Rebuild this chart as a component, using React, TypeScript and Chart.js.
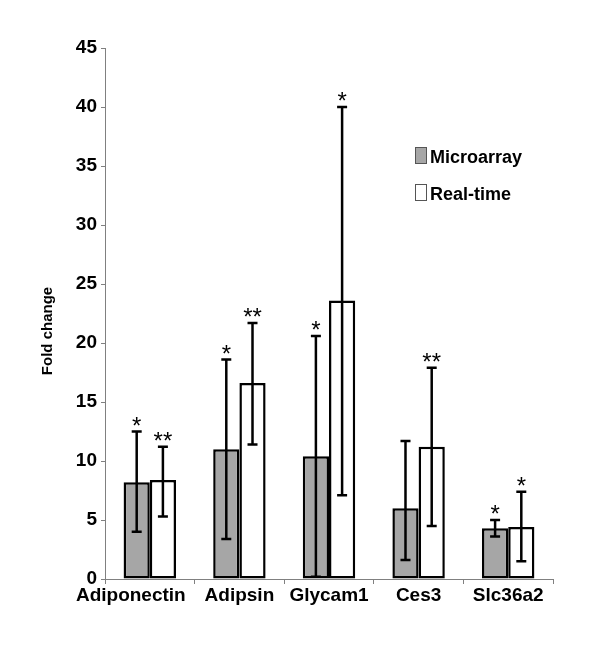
import React, { useEffect, useRef } from "react";
import { Chart, registerables } from "chart.js";

Chart.register(...registerables);

const categories = ["Adiponectin", "Adipsin", "Glycam1", "Ces3", "Slc36a2"];
const seriesNames = ["Microarray", "Real-time"];
const microarray = [8.2, 11.0, 10.4, 6.0, 4.3];
const microarrayLow = [4.0, 3.4, 0.2, 1.6, 3.6];
const microarrayHigh = [12.5, 18.6, 20.6, 11.7, 5.0];
const microarrayStars = ["*", "*", "*", "", "*"];
const realtime = [8.4, 16.6, 23.6, 11.2, 4.4];
const realtimeLow = [5.3, 11.4, 7.1, 4.5, 1.5];
const realtimeHigh = [11.2, 21.7, 40.0, 17.9, 7.4];
const realtimeStars = ["**", "**", "*", "**", "*"];
const yMin = 0;
const yMax = 45;
const yStep = 5;
const yTitle = "Fold change";

const GREY = "#a6a6a6";
const FONT = "'Liberation Sans', Arial, sans-serif";

const errorBars = {
  id: "errorBars",
  afterDatasetsDraw(chart: any) {
    const ctx = chart.ctx;
    const y = chart.scales.y;
    const lows = [microarrayLow, realtimeLow];
    const highs = [microarrayHigh, realtimeHigh];
    const stars = [microarrayStars, realtimeStars];
    ctx.save();
    chart.data.datasets.forEach((_: any, di: number) => {
      const meta = chart.getDatasetMeta(di);
      meta.data.forEach((bar: any, i: number) => {
        const x = bar.x;
        const yl = y.getPixelForValue(lows[di][i]);
        const yh = y.getPixelForValue(highs[di][i]);
        ctx.strokeStyle = "#000";
        ctx.lineWidth = 2.5;
        ctx.beginPath();
        ctx.moveTo(x, yl);
        ctx.lineTo(x, yh);
        ctx.moveTo(x - 5, yl);
        ctx.lineTo(x + 5, yl);
        ctx.moveTo(x - 5, yh);
        ctx.lineTo(x + 5, yh);
        ctx.stroke();
        const s = stars[di][i];
        if (s) {
          ctx.fillStyle = "#000";
          ctx.font = `24px ${FONT}`;
          ctx.textAlign = "center";
          ctx.textBaseline = "alphabetic";
          ctx.fillText(s, x, yh + 2);
        }
      });
    });
    // y title
    ctx.save();
    ctx.translate(48, 331);
    ctx.rotate(-Math.PI / 2);
    ctx.font = `bold 15px ${FONT}`;
    ctx.fillStyle = "#000";
    ctx.textAlign = "center";
    ctx.textBaseline = "middle";
    ctx.fillText(yTitle, 0, 0);
    ctx.restore();
    // legend
    const fills = [GREY, "#ffffff"];
    const legendY = [147, 184];
    seriesNames.forEach((name, k) => {
      ctx.fillStyle = fills[k];
      ctx.fillRect(415, legendY[k], 12, 17);
      ctx.strokeStyle = "#555";
      ctx.lineWidth = 1;
      ctx.strokeRect(415.5, legendY[k] + 0.5, 11, 16);
      ctx.fillStyle = "#000";
      ctx.font = `bold 18px ${FONT}`;
      ctx.textAlign = "left";
      ctx.textBaseline = "alphabetic";
      ctx.fillText(name, 430, legendY[k] + 16);
    });
    ctx.restore();
  },
};

export default function App() {
  const ref = useRef<HTMLCanvasElement>(null);
  useEffect(() => {
    if (!ref.current) return;
    const chart = new Chart(ref.current, {
      type: "bar",
      data: {
        labels: categories,
        datasets: [
          {
            label: seriesNames[0],
            data: microarray,
            backgroundColor: GREY,
            borderColor: "#000",
            borderWidth: 2.5,
            borderSkipped: false,
            categoryPercentage: 0.585,
            barPercentage: 1,
          },
          {
            label: seriesNames[1],
            data: realtime,
            backgroundColor: "#ffffff",
            borderColor: "#000",
            borderWidth: 2.5,
            borderSkipped: false,
            categoryPercentage: 0.585,
            barPercentage: 1,
          },
        ],
      },
      options: {
        responsive: false,
        animation: false,
        layout: { padding: { left: 30, top: 48, right: 47, bottom: 51 } },
        plugins: { legend: { display: false }, tooltip: { enabled: false } },
        scales: {
          x: {
            afterFit: (s: any) => {
              s.height = 30;
            },
            grid: {
              offset: true,
              drawOnChartArea: false,
              drawTicks: true,
              tickLength: 5,
              color: "#808080",
            },
            border: { color: "#808080", width: 1 },
            ticks: {
              padding: 0,
              autoSkip: false,
              color: "#000",
              font: { family: FONT, size: 19, weight: "bold" },
              maxRotation: 0,
              minRotation: 0,
              callback: (_v: any, i: number) =>
                i === 0 ? categories[i] + "\u2003\u2003" : categories[i],
            },
          },
          y: {
            min: yMin,
            max: yMax,
            afterFit: (s: any) => {
              s.width = 75;
            },
            grid: {
              drawOnChartArea: false,
              drawTicks: true,
              tickLength: 4,
              color: "#808080",
            },
            border: { color: "#808080", width: 1 },
            ticks: {
              stepSize: yStep,
              padding: 4,
              color: "#000",
              font: { family: FONT, size: 19, weight: "bold" },
            },
          },
        },
      },
      plugins: [errorBars],
    });
    return () => chart.destroy();
  }, []);
  return (
    <div style={{ position: "fixed", left: 0, top: 0, width: 600, height: 660, background: "#fff" }}>
      <canvas ref={ref} width={600} height={660} />
    </div>
  );
}
